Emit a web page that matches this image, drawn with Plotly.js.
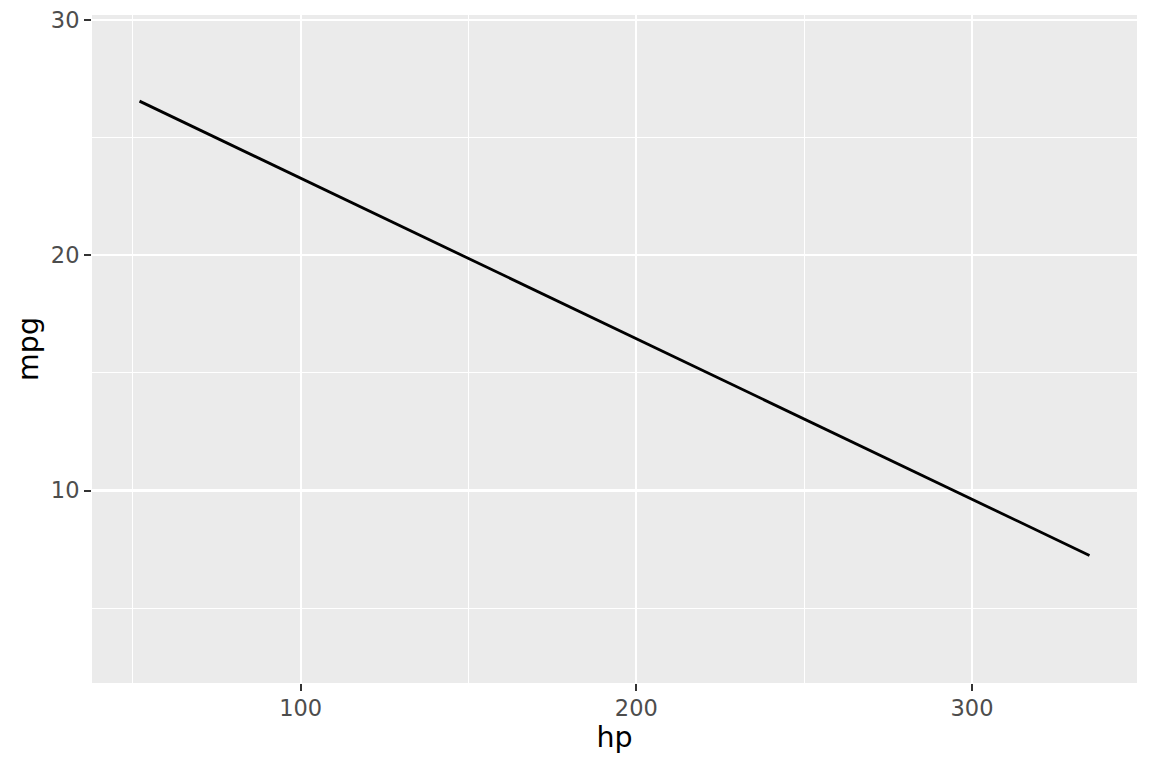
<!DOCTYPE html>
<html>
<head>
<meta charset="utf-8">
<script src="https://cdn.plot.ly/plotly-3.0.1.min.js"></script>
<style>html,body{margin:0;padding:0;background:#fff;}#chart{width:1152px;height:768px;}</style>
</head>
<body>
<div id="chart"></div>
<script>
const hp = [52, 335];
const mpgFit = [26.55, 7.24];
const xTicks = [100, 200, 300];
const yTicks = [10, 20, 30];

const trace = {
  x: hp, y: mpgFit, type: 'scatter', mode: 'lines',
  line: {color: '#000000', width: 2.8},
  hoverinfo: 'skip', showlegend: false
};

const fontFam = 'DejaVu Sans, sans-serif';
const layout = {
  width: 1152, height: 768,
  margin: {l: 92, r: 15, t: 15, b: 85},
  paper_bgcolor: '#ffffff',
  plot_bgcolor: '#EBEBEB',
  showlegend: false,
  xaxis: {
    range: [37.85, 349.15],
    tickvals: xTicks, ticktext: xTicks.map(String),
    showgrid: true, gridcolor: '#ffffff', gridwidth: 2.2,
    minor: {dtick: 50, tick0: 0, showgrid: true, gridcolor: '#ffffff', gridwidth: 1.1, ticks: ''},
    zeroline: false, showline: false,
    ticks: 'outside', ticklen: 7, tickwidth: 2, tickcolor: '#333333',
    ticklabelstandoff: -2,
    tickfont: {family: fontFam, size: 22.5, color: '#4D4D4D'},
    title: {text: 'hp', font: {family: fontFam, size: 28.5, color: '#000000'}, standoff: 6}
  },
  yaxis: {
    range: [1.82, 30.21],
    tickvals: yTicks, ticktext: yTicks.map(String),
    showgrid: true, gridcolor: '#ffffff', gridwidth: 2.2,
    minor: {dtick: 5, tick0: 0, showgrid: true, gridcolor: '#ffffff', gridwidth: 1.1, ticks: ''},
    zeroline: false, showline: false,
    ticks: 'outside', ticklen: 7, tickwidth: 2, tickcolor: '#333333',
    tickfont: {family: fontFam, size: 22.5, color: '#4D4D4D'},
    title: {text: 'mpg', font: {family: fontFam, size: 28.5, color: '#000000'}, standoff: 3}
  }
};

Plotly.newPlot('chart', [trace], layout, {displayModeBar: false, staticPlot: true});
</script>
</body>
</html>
